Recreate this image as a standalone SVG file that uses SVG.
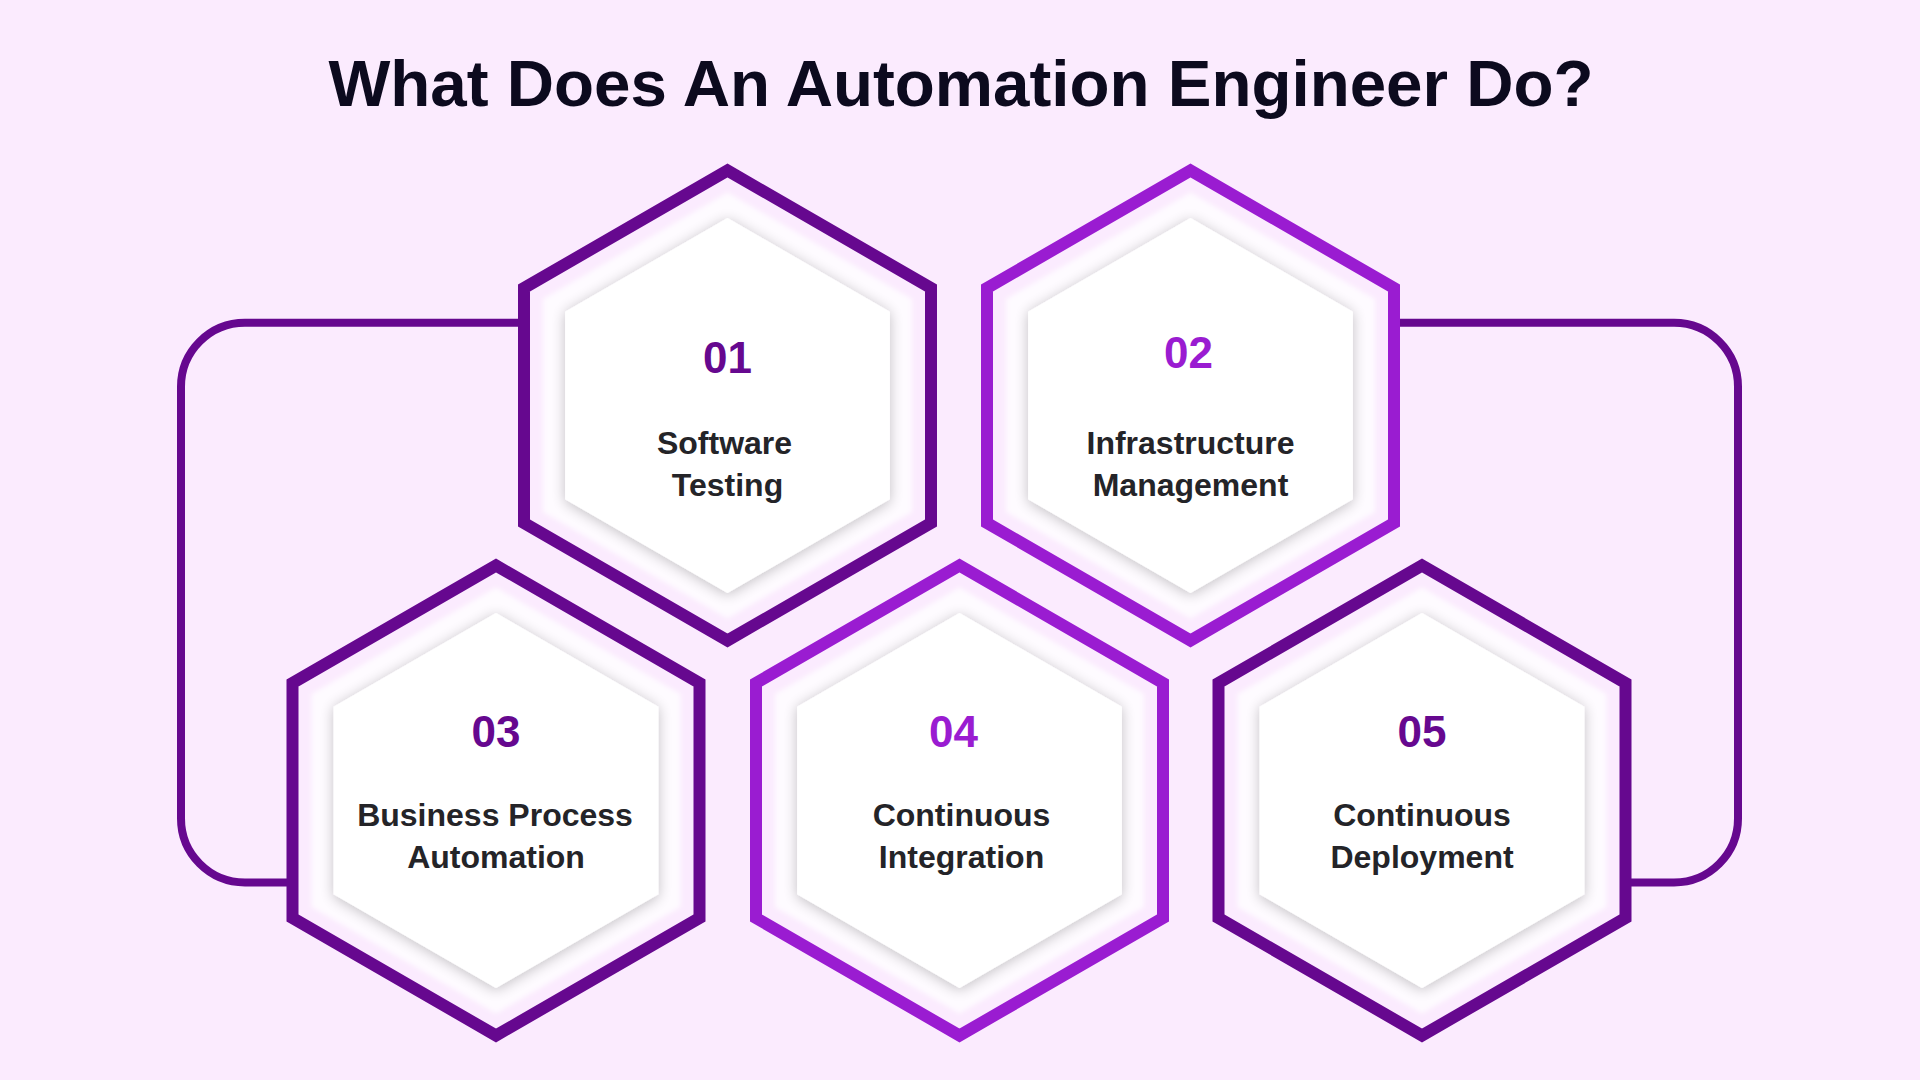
<svg xmlns="http://www.w3.org/2000/svg" xmlns:xlink="http://www.w3.org/1999/xlink" width="1920" height="1080" viewBox="0 0 1920 1080">
  <style>
    .bg { fill: #fbebfe; }
    .title { font-family: "Liberation Sans", Arial, sans-serif; font-weight: 700; font-size: 65.5px; fill: #0c0a1e; text-anchor: middle; }
    .num { font-family: "Liberation Sans", Arial, sans-serif; font-weight: 700; font-size: 44px; text-anchor: middle; }
    .lbl { font-family: "Liberation Sans", Arial, sans-serif; font-weight: 700; font-size: 32px; fill: #242428; text-anchor: middle; }
    .dark { stroke: #66088f; }
    .bright { stroke: #9a1cd1; }
    .num.dark { fill: #66088f; stroke: none; }
    .num.bright { fill: #9a1cd1; stroke: none; }
    .outer { fill: #fbebfe; stroke-width: 12; stroke-linejoin: miter; }
    .band { fill: #fefbff; }
    .inner { fill: #ffffff; }
    .conn { fill: none; stroke: #66088f; stroke-width: 8; }
  </style>
  <defs>
    <polygon id="hexOuter" points="0,-235 203.5,-117.5 203.5,117.5 0,235 -203.5,117.5 -203.5,-117.5"/>
    <polygon id="hexBand" points="0,-213 184.5,-106.5 184.5,106.5 0,213 -184.5,106.5 -184.5,-106.5"/>
    <polygon id="hexInner" points="0,-187.5 162.4,-93.75 162.4,93.75 0,187.5 -162.4,93.75 -162.4,-93.75"/>
    <filter id="plate" x="-20%" y="-20%" width="140%" height="140%">
      <feGaussianBlur stdDeviation="2.5"/>
    </filter>
    <filter id="soft" x="-25%" y="-25%" width="150%" height="150%">
      <feGaussianBlur in="SourceAlpha" stdDeviation="7"/>
      <feOffset dx="0" dy="2"/>
      <feComponentTransfer><feFuncA type="linear" slope="0.24"/></feComponentTransfer>
      <feMerge><feMergeNode/><feMergeNode in="SourceGraphic"/></feMerge>
    </filter>
  </defs>

  <rect class="bg" x="0" y="0" width="1920" height="1080"/>

  <text id="title" class="title" x="961" y="106">What Does An Automation Engineer Do?</text>

  <g id="connectors">
    <path class="conn" d="M 523 322.8 H 245 A 64 64 0 0 0 181 386.8 V 818.5 A 64 64 0 0 0 245 882.5 H 293"/>
    <path class="conn" d="M 1394 322.8 H 1674 A 64 64 0 0 1 1738 386.8 V 818.5 A 64 64 0 0 1 1674 882.5 H 1625"/>
  </g>

  <g id="node-01" transform="translate(727.5,405.5)">
    <use href="#hexOuter" xlink:href="#hexOuter" class="outer dark"/>
    <use href="#hexBand" xlink:href="#hexBand" class="band" filter="url(#plate)"/>
    <use href="#hexInner" xlink:href="#hexInner" class="inner" filter="url(#soft)"/>
    <text class="num dark" x="0" y="-32.5">01</text>
    <text class="lbl" x="-3" y="48.5">Software</text>
    <text class="lbl" x="0" y="90.5">Testing</text>
  </g>

  <g id="node-02" transform="translate(1190.5,405.5)">
    <use href="#hexOuter" xlink:href="#hexOuter" class="outer bright"/>
    <use href="#hexBand" xlink:href="#hexBand" class="band" filter="url(#plate)"/>
    <use href="#hexInner" xlink:href="#hexInner" class="inner" filter="url(#soft)"/>
    <text class="num bright" x="-2" y="-37.5">02</text>
    <text class="lbl" x="0" y="48">Infrastructure</text>
    <text class="lbl" x="0" y="90">Management</text>
  </g>

  <g id="node-03" transform="translate(496,800.5)">
    <use href="#hexOuter" xlink:href="#hexOuter" class="outer dark"/>
    <use href="#hexBand" xlink:href="#hexBand" class="band" filter="url(#plate)"/>
    <use href="#hexInner" xlink:href="#hexInner" class="inner" filter="url(#soft)"/>
    <text class="num dark" x="0" y="-54">03</text>
    <text class="lbl" x="-1" y="25.5">Business Process</text>
    <text class="lbl" x="0" y="67.5">Automation</text>
  </g>

  <g id="node-04" transform="translate(959.5,800.5)">
    <use href="#hexOuter" xlink:href="#hexOuter" class="outer bright"/>
    <use href="#hexBand" xlink:href="#hexBand" class="band" filter="url(#plate)"/>
    <use href="#hexInner" xlink:href="#hexInner" class="inner" filter="url(#soft)"/>
    <text class="num bright" x="-6" y="-54">04</text>
    <text class="lbl" x="2" y="25.5">Continuous</text>
    <text class="lbl" x="2" y="67.5">Integration</text>
  </g>

  <g id="node-05" transform="translate(1422,800.5)">
    <use href="#hexOuter" xlink:href="#hexOuter" class="outer dark"/>
    <use href="#hexBand" xlink:href="#hexBand" class="band" filter="url(#plate)"/>
    <use href="#hexInner" xlink:href="#hexInner" class="inner" filter="url(#soft)"/>
    <text class="num dark" x="0" y="-54">05</text>
    <text class="lbl" x="0" y="25.5">Continuous</text>
    <text class="lbl" x="0" y="67.5">Deployment</text>
  </g>
</svg>
